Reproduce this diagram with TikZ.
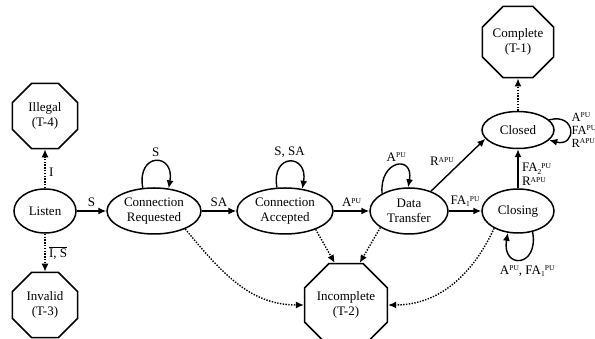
\documentclass[tikz,border=0pt]{standalone}
\usepackage{fontspec}
\setmainfont{Liberation Serif}
\usetikzlibrary{arrows.meta,shapes.geometric}
\newcommand\supx[1]{\raisebox{3.6pt}{\fontsize{7.5}{8}\selectfont #1}}
\newcommand\subx[1]{\raisebox{-2.2pt}{\fontsize{7.5}{8}\selectfont #1}}
\begin{document}
\begin{tikzpicture}[x=1pt,y=1pt,
  font=\fontsize{13}{15}\selectfont,
  st/.style={draw, ellipse, line width=1.5pt, inner sep=0pt, align=center},
  term/.style={draw, regular polygon, regular polygon sides=8, minimum size=70.4pt,
    inner sep=0pt, line width=1.5pt, align=center},
  tr/.style={line width=1.4pt, -{Latex[length=8pt,width=7pt]}},
  dtr/.style={tr, dash pattern=on 1.4pt off 1.4pt}]
\useasboundingbox (0,0) rectangle (595,339);

\node[st, minimum width=62pt, minimum height=44pt] (listen) at (45,128) {Listen};
\node[term] (illegal) at (45,223) {Illegal\\(T-4)};
\node[term] (invalid) at (45,34) {Invalid\\(T-3)};
\node[st, minimum width=94pt, minimum height=46pt] (cr) at (154,128) {Connection\\Requested};
\node[st, minimum width=96pt, minimum height=46pt] (ca) at (285,128) {Connection\\Accepted};
\node[st, minimum width=78pt, minimum height=46pt] (dt) at (409,128) {Data\\Transfer};
\node[st, minimum width=72pt, minimum height=44pt] (closing) at (518,128) {Closing};
\node[st, minimum width=72pt, minimum height=37pt] (closed) at (518,209) {Closed};
\node[term] (complete) at (518,297) {Complete\\(T-1)};
\node[term] (incomplete) at (346,34) {Incomplete\\(T-2)};

\draw[dtr] (listen) -- node[pos=0.4, right]{I} (illegal);
\draw[dtr] (listen) -- node[right]{$\overline{\mbox{I, S}}$} (invalid);
\draw[tr] (listen) -- node[above]{S} (cr);
\draw[tr] (cr) -- node[above]{SA} (ca);
\draw[tr] (ca) -- node[above]{A\supx{PU}} (dt);
\draw[tr] (dt) -- node[above]{FA\subx{1}\supx{PU}} (closing);
\draw[tr] (dt.42) -- node[pos=0.45, anchor=south east, inner sep=1pt]{R\supx{APU}} (closed.195);
\draw[tr] (closing) -- node[pos=0.35, right, align=left, font=\fontsize{13}{14}\selectfont]{FA\subx{2}\supx{PU}\\R\supx{APU}} (closed);
\draw[dtr] (closed) -- (complete);

\draw[tr] (cr.116) to[out=100,in=80,looseness=3.6] node[above]{S} (cr.57);
\draw[tr] (ca.109) to[out=100,in=80,looseness=3.6] node[above]{S, SA} (ca.52);
\draw[tr] (dt.147) to[out=95,in=80,looseness=3.2] node[above]{A\supx{PU}} (dt.92);
\draw[tr] (closed.18) to[out=15,in=-15,looseness=3.6]
  node[pos=0.5, anchor=west, align=left, inner sep=1pt, font=\fontsize{12.5}{13}\selectfont]{A\supx{PU}\\FA\supx{PU}\\R\supx{APU}} (closed.-18);
\draw[tr] (closing.305) to[out=-80,in=-100,looseness=3.8]
  node[pos=0.5, below=2pt, xshift=7pt]{A\supx{PU}, FA\subx{1}\supx{PU}} (closing.245);

\draw[dtr] (cr.-30) to[out=-50,in=180] (incomplete.west);
\draw[dtr] (ca.-31) -- (incomplete.105);
\draw[dtr] (dt.210) -- (incomplete.72);
\draw[dtr] (closing.216) to[out=-115,in=0] (incomplete.east);
\end{tikzpicture}
\end{document}
